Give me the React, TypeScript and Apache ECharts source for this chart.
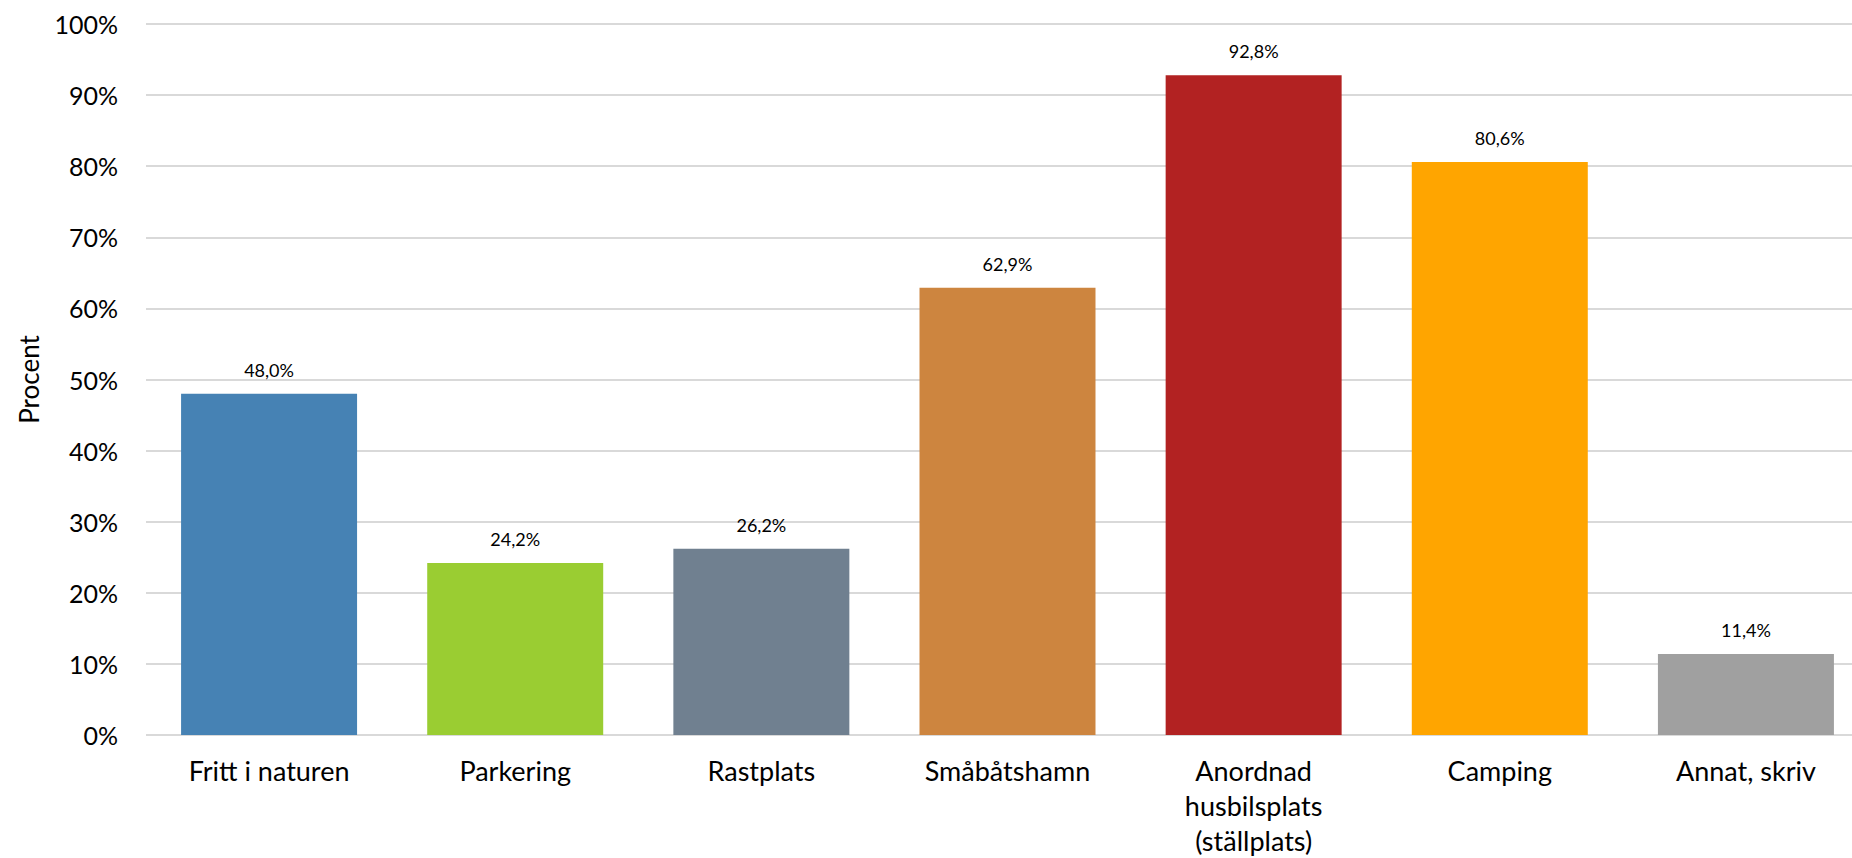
import React, { useEffect, useRef } from "react";
import * as echarts from "echarts";

const categories = [
  "Fritt i naturen",
  "Parkering",
  "Rastplats",
  "Småbåtshamn",
  "Anordnad\nhusbilsplats\n(ställplats)",
  "Camping",
  "Annat, skriv",
];
const values = [48.0, 24.2, 26.2, 62.9, 92.8, 80.6, 11.4];
const barColors = ["#4682B4", "#9ACD32", "#708090", "#CD853F", "#B22222", "#FFA500", "#A0A0A0"];
const yTicks = [0, 10, 20, 30, 40, 50, 60, 70, 80, 90, 100];
const yAxisTitle = "Procent";

const FONT = "Lato";

export default function App() {
  const ref = useRef<HTMLDivElement>(null);
  useEffect(() => {
    if (!ref.current) return;
    const chart = echarts.init(ref.current, null, { renderer: "svg" });
    chart.setOption({
      animation: false,
      backgroundColor: "#ffffff",
      grid: {
        left: 146,
        width: 1723,
        top: 24,
        bottom: 123,
        containLabel: false,
        outerBoundsMode: "none",
      },
      xAxis: {
        type: "category",
        data: categories,
        axisLine: { show: false },
        axisTick: { show: false },
        axisLabel: {
          color: "#000000",
          fontFamily: FONT,
          fontSize: 27,
          lineHeight: 35,
          margin: 18,
          interval: 0,
        },
      },
      yAxis: {
        type: "value",
        min: yTicks[0],
        max: yTicks[yTicks.length - 1],
        interval: 10,
        name: yAxisTitle,
        nameLocation: "middle",
        nameGap: 104,
        nameTextStyle: { color: "#000000", fontFamily: FONT, fontSize: 26 },
        axisLine: { show: false },
        axisTick: { show: false },
        axisLabel: {
          color: "#000000",
          fontFamily: FONT,
          fontSize: 25,
          margin: 28,
          formatter: (v: number) => `${v}%`,
        },
        splitLine: { lineStyle: { color: "#D9D9D9", width: 2 } },
      },
      series: [
        {
          type: "bar",
          data: values.map((v, i) => ({ value: v, itemStyle: { color: barColors[i] } })),
          barCategoryGap: "28.5%",
          label: {
            show: true,
            position: "top",
            distance: 15,
            color: "#000000",
            fontFamily: FONT,
            fontSize: 18,
            formatter: (p: any) => `${p.value.toFixed(1).replace(".", ",")}%`,
          },
        },
      ],
    });
    return () => chart.dispose();
  }, []);
  return (
    <div
      ref={ref}
      style={{ position: "fixed", left: 0, top: 0, width: 1852, height: 858 }}
    />
  );
}
